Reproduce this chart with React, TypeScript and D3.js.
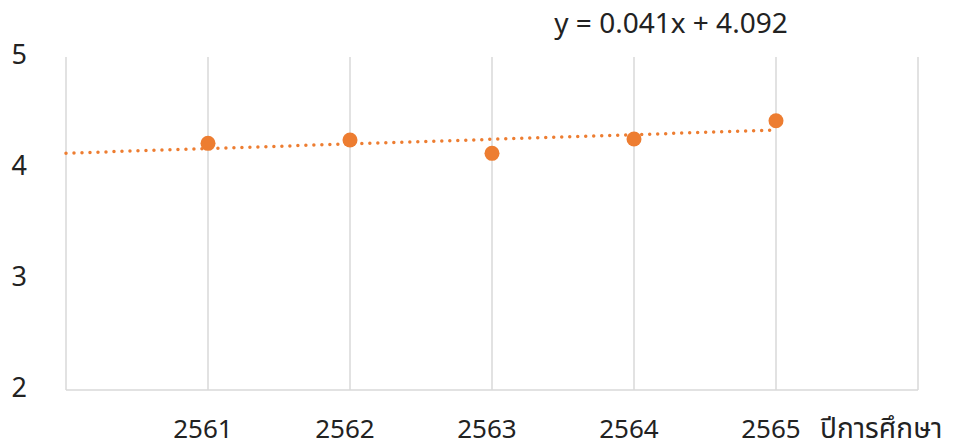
import React from "react";
import * as d3 from "d3";

const categories = ["2561", "2562", "2563", "2564", "2565"];
const values = [4.222, 4.252, 4.132, 4.261, 4.426];
const yTicks = [2, 3, 4, 5];
const equationLabel = "y = 0.041x + 4.092";
const axisTitle = "ปีการศึกษา";

const W = 953;
const H = 447;
const FONT = "'Noto Sans', 'Noto Sans Thai', 'Loma', 'Garuda', 'DejaVu Sans', sans-serif";
const ORANGE = "#ED7D31";
const GRID = "#d9d9d9";

export default function App() {
  const x = d3.scaleLinear().domain([0, categories.length + 1]).range([66, 918]);
  const y = d3.scaleLinear().domain([2, 5]).range([390, 57]);

  // least squares over category positions 1..n
  const pos = values.map((_, i) => i + 1);
  const mx = d3.mean(pos) as number;
  const my = d3.mean(values) as number;
  const slope =
    d3.sum(pos.map((p, i) => (p - mx) * (values[i] - my))) /
    d3.sum(pos.map((p) => (p - mx) * (p - mx)));
  const intercept = my - slope * mx;
  const trend = [0, categories.length].map((p) => [p, intercept + slope * p] as [number, number]);
  const line = d3
    .line<[number, number]>()
    .x((d) => x(d[0]))
    .y((d) => y(d[1]));

  const gridPos = d3.range(0, categories.length + 2);

  return (
    <svg
      width={W}
      height={H}
      style={{ position: "absolute", left: 0, top: 0, background: "#fff" }}
      fontFamily={FONT}
    >
      {gridPos.map((p) => (
        <line key={p} x1={x(p)} x2={x(p)} y1={y(5)} y2={y(2)} stroke={GRID} strokeWidth={1.5} />
      ))}
      <line x1={x(0)} x2={x(6)} y1={y(2)} y2={y(2)} stroke={GRID} strokeWidth={1.5} />
      {yTicks.map((t) => (
        <text key={t} x={27} y={y(t) - 4} textAnchor="end" dominantBaseline="central" fontSize={27} fill="#222">
          {t}
        </text>
      ))}
      {categories.map((c, i) => (
        <text key={c} x={x(i + 1) - 5} y={438} textAnchor="middle" fontSize={26} fill="#222">
          {c}
        </text>
      ))}
      <text x={820} y={438} textAnchor="start" fontSize={28} fill="#222">
        {axisTitle}
      </text>
      <path
        d={line(trend) || ""}
        fill="none"
        stroke={ORANGE}
        strokeWidth={3.5}
        strokeDasharray="0 8"
        strokeLinecap="round"
      />
      {values.map((v, i) => (
        <circle key={i} cx={x(i + 1)} cy={y(v)} r={7.5} fill={ORANGE} />
      ))}
      <text x={671} y={33} textAnchor="middle" fontSize={28} fill="#222">
        {equationLabel}
      </text>
    </svg>
  );
}
